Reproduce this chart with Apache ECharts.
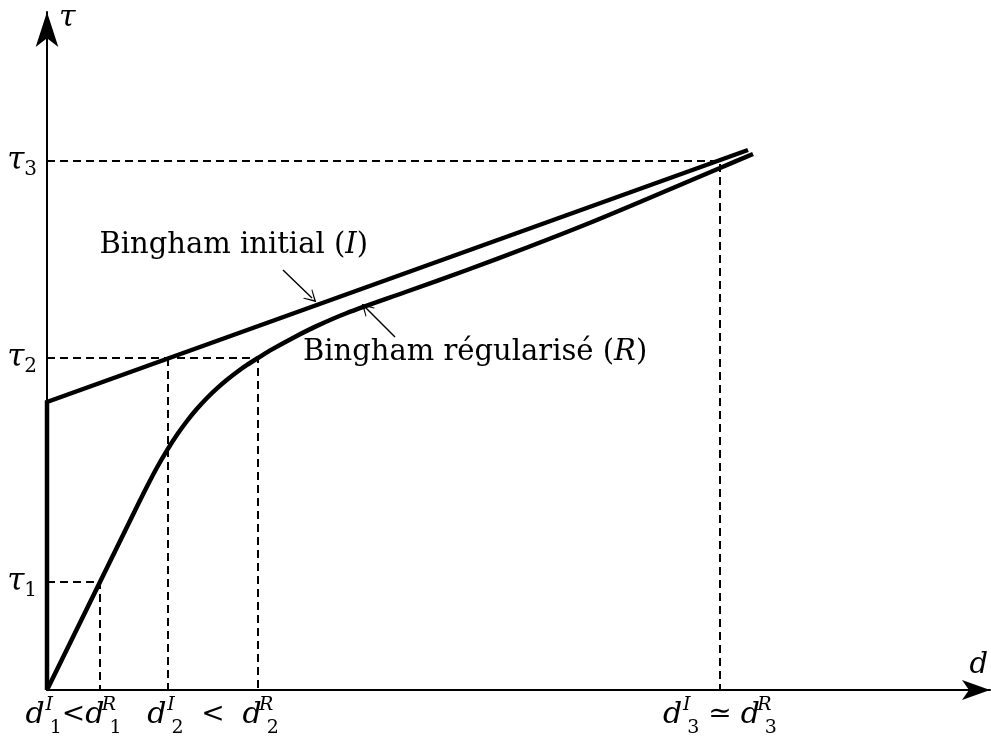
<!DOCTYPE html>
<html><head><meta charset="utf-8">
<script src="https://cdn.jsdelivr.net/npm/echarts@6/dist/echarts.min.js"></script>
<style>html,body{margin:0;padding:0;background:#fff}#c{width:991px;height:738px}</style>
</head><body><div id="c"></div>
<script>
// ---- data (d, tau) ----
const tauLevels = [108, 332, 529];          // tau1, tau2, tau3
const dInitial = [0, 121, 673];             // d1^I, d2^I, d3^I
const dRegular = [53, 211, 673];            // d1^R, d2^R, d3^R
const binghamInitial = [[0, 0], [0, 288], [701, 540]];
const binghamRegular = [[0, 0], [53, 108], [90, 183.5], [100, 203.5], [110, 222.5], [120, 239.7], [130, 255.2], [140, 269], [150, 281.2], [160, 292], [170, 301.6], [180, 310.2], [190, 318], [200, 325.1], [211, 332], [225, 340.6], [245, 351.6], [270, 364.1], [300, 377], [360, 398.5], [420, 420], [480, 442.5], [540, 466], [600, 491], [673, 522], [706, 536]];
const yTickLabels = ['{t|τ}{s|1}', '{t|τ}{s|2}', '{t|τ}{s|3}'];
const xTickLabels = [
  '{d|d}{sup|I}{sub|1}{op|<}{d|d}{sup|R}{sub|1}',
  '{d|d}{sup|I}{sub|2}{op|  <  }{d|d}{sup|R}{sub|2}',
  '{d|d}{sup|I}{sub|3}{op| ≃ }{d|d}{sup|R}{sub|3}'
];
const annotations = [
  { text: 'Bingham initial (', it: 'I', from: [236, 420], to: [265, 392] },
  { text: 'Bingham régularisé (', it: 'R', from: [348, 353], to: [319, 382] }
];

const FONT = 'DejaVu Serif';
const xLabelPos = dInitial.map((v, i) => (v + dRegular[i]) / 2);

const dashed = [];
tauLevels.forEach((t, i) => {
  dashed.push([[0, t], [dRegular[i], t], [dRegular[i], 0]]);
  if (dInitial[i] !== dRegular[i] && dInitial[i] > 0) dashed.push([[dInitial[i], t], [dInitial[i], 0]]);
});

const richX = {
  d: { fontFamily: FONT, fontStyle: 'italic', fontSize: 30, lineHeight: 46, verticalAlign: 'middle', color: '#000' },
  sup: { fontFamily: FONT, fontStyle: 'italic', fontSize: 19, lineHeight: 19, verticalAlign: 'top', padding: [4, 0, 0, 4], width: 1, color: '#000' },
  sub: { fontFamily: FONT, fontSize: 19, lineHeight: 19, verticalAlign: 'bottom', color: '#000', padding: [0, 0, 0, 0] },
  op: { fontFamily: FONT, fontSize: 28, lineHeight: 46, verticalAlign: 'middle', color: '#000' }
};
const richY = {
  t: { fontFamily: FONT, fontStyle: 'italic', fontSize: 31, lineHeight: 38, verticalAlign: 'middle', color: '#000' },
  s: { fontFamily: FONT, fontSize: 20, lineHeight: 20, verticalAlign: 'bottom', color: '#000' }
};

const chart = echarts.init(document.getElementById('c'), null, { renderer: 'canvas' });
const lineSeries = [];
dashed.forEach(d => lineSeries.push({
  type: 'line', data: d, symbol: 'none', silent: true, z: 1,
  lineStyle: { color: '#000', width: 2, type: [8, 5] }
}));
lineSeries.push({
  name: 'Bingham initial', type: 'line', data: binghamInitial, symbol: 'none', z: 3,
  lineStyle: { color: '#000', width: 4.5, cap: 'butt', join: 'miter' }
});
lineSeries.push({
  name: 'Bingham régularisé', type: 'line', data: binghamRegular, symbol: 'none',
  smooth: 0.3, z: 3,
  lineStyle: { color: '#000', width: 4.5 }
});
lineSeries.push({
  type: 'line', data: [], symbol: 'none', silent: true,
  markLine: {
    silent: true, animation: false,
    symbol: ['none', 'path://M0,0 L6,12 L5,12 L0,3 L-5,12 L-6,12 Z'],
    symbolSize: [13, 12],
    label: { show: false },
    lineStyle: { color: '#000', width: 1.4, type: 'solid' },
    data: annotations.map(a => [{ coord: a.from }, { coord: a.to }])
  }
});

chart.setOption({
  animation: false,
  backgroundColor: '#fff',
  grid: { left: 47, right: 1, top: 12, bottom: 48, containLabel: false },
  xAxis: {
    type: 'value', min: 0, max: 943,
    name: 'd', nameLocation: 'end', nameGap: 0,
    nameTextStyle: { fontFamily: FONT, fontStyle: 'italic', fontSize: 29, color: '#000', align: 'right', verticalAlign: 'bottom', padding: [0, 2, 10, 0] },
    axisLine: { show: true, symbol: ['none', 'arrow'], symbolSize: [15, 28], lineStyle: { color: '#000', width: 2 } },
    axisTick: { show: false },
    splitLine: { show: false },
    axisLabel: {
      customValues: xLabelPos, margin: 2, color: '#000', rich: richX,
      formatter: (v) => xTickLabels[xLabelPos.indexOf(v)] || ''
    }
  },
  yAxis: {
    type: 'value', min: 0, max: 678,
    name: 'τ', nameLocation: 'end', nameGap: 0,
    nameTextStyle: { fontFamily: FONT, fontStyle: 'italic', fontSize: 30, color: '#000', align: 'left', verticalAlign: 'top', padding: [-9, 0, 0, 12] },
    axisLine: { show: true, symbol: ['none', 'arrow'], symbolSize: [17, 35], lineStyle: { color: '#000', width: 2 } },
    axisTick: { show: false },
    splitLine: { show: false },
    axisLabel: {
      customValues: tauLevels, margin: 10, color: '#000', rich: richY,
      formatter: (v) => yTickLabels[tauLevels.indexOf(v)] || ''
    }
  },
  series: lineSeries
});

// annotation text, placed at the start of each arrow
const richAnn = { n: { fontFamily: FONT, fontSize: 29, fill: '#000' }, i: { fontFamily: FONT, fontStyle: 'italic', fontSize: 29, fill: '#000' } };
const p0 = chart.convertToPixel({ gridIndex: 0 }, annotations[0].from);
const p1 = chart.convertToPixel({ gridIndex: 0 }, annotations[1].from);
chart.setOption({ graphic: [
  { type: 'text', x: p0[0] + 85, y: p0[1] - 10,
    style: { rich: richAnn, text: '{n|' + annotations[0].text + '}{i|' + annotations[0].it + '}{n|)}', align: 'right', verticalAlign: 'bottom', fill: '#000' } },
  { type: 'text', x: p1[0] - 92, y: p1[1] + 1,
    style: { rich: richAnn, text: '{n|' + annotations[1].text + '}{i|' + annotations[1].it + '}{n|)}', align: 'left', verticalAlign: 'top', fill: '#000' } }
] });
</script>
</body></html>
